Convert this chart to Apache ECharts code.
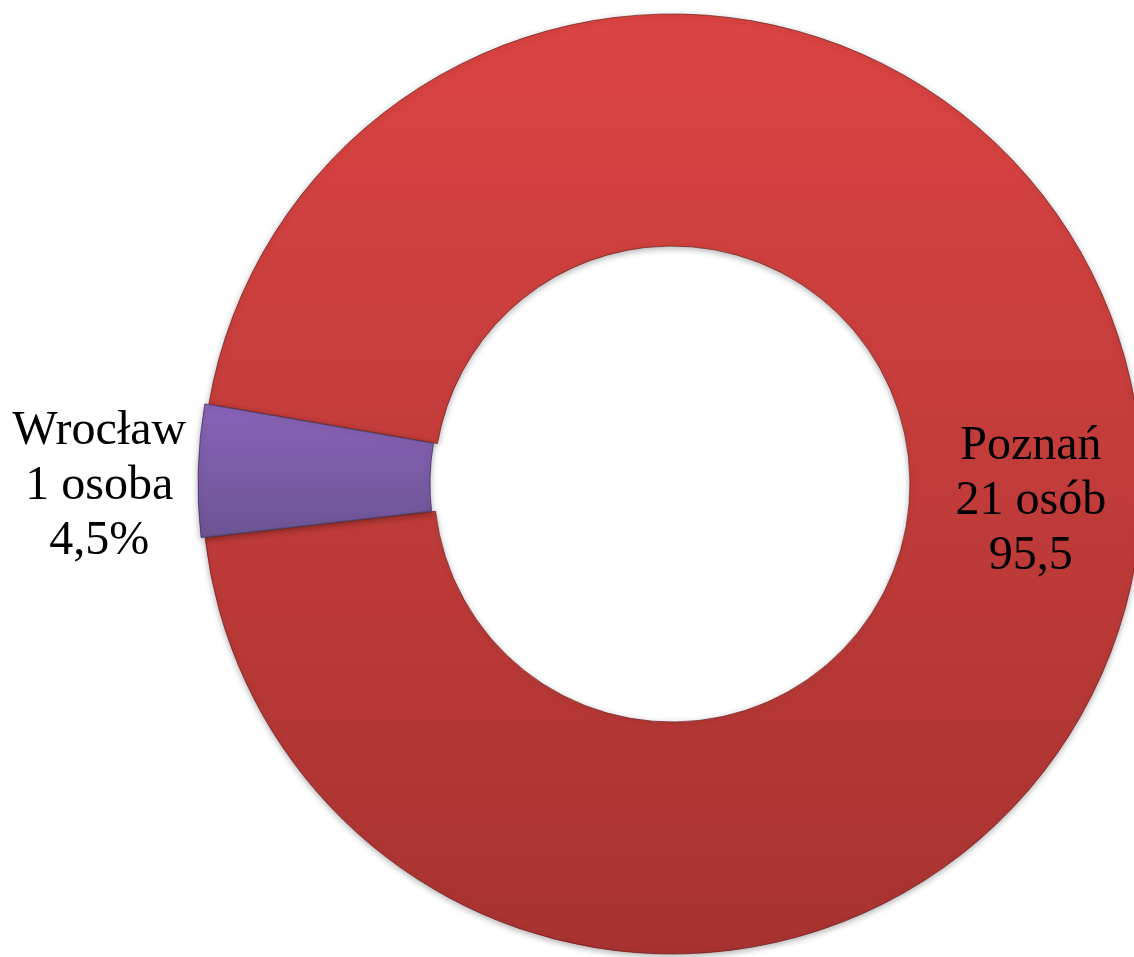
<!DOCTYPE html>
<html>
<head>
<meta charset="utf-8">
<style>
  html, body { margin: 0; padding: 0; background: #ffffff; }
  #chart { width: 1134px; height: 957px; }
</style>
<script src="https://cdn.jsdelivr.net/npm/echarts@6/dist/echarts.min.js"></script>
</head>
<body>
<div id="chart"></div>
<script>
// Data
const cities = ['Poznań', 'Wrocław'];
const counts = [21, 1];
const countLabels = ['21 osób', '1 osoba'];
const percentLabels = ['95,5', '4,5%'];

const chart = echarts.init(document.getElementById('chart'), null, { renderer: 'canvas' });

function grad(top, bottom) {
  return new echarts.graphic.LinearGradient(0, 0, 0, 1, [
    { offset: 0, color: top },
    { offset: 1, color: bottom }
  ]);
}

const styles = [
  { color: grad('#db4442', '#a73331'), borderColor: 'rgba(110,25,25,0.7)' },
  { color: grad('#8a63b8', '#6c5494'), borderColor: 'rgba(60,40,90,0.7)' }
];
const labelShift = [[2, 7], [-2, 16]];

const seriesData = cities.map((c, i) => ({
  name: c,
  value: counts[i],
  selected: i === 1,
  itemStyle: {
    color: styles[i].color,
    borderColor: styles[i].borderColor,
    borderWidth: 1,
    shadowBlur: 6,
    shadowColor: 'rgba(0,0,0,0.30)',
    shadowOffsetY: 2
  },
  label: { position: i === 0 ? 'inside' : 'outside' }
}));

chart.setOption({
  backgroundColor: '#ffffff',
  animation: false,
  series: [{
    type: 'pie',
    center: [672, 484],
    radius: [238, 470],
    startAngle: 170.2,
    clockwise: true,
    selectedMode: 'single',
    selectedOffset: 4,
    avoidLabelOverlap: false,
    data: seriesData,
    labelLayout: function (p) {
      return { dx: labelShift[p.dataIndex][0], dy: labelShift[p.dataIndex][1] };
    },
    label: {
      show: true,
      color: '#000000',
      fontFamily: 'Liberation Serif',
      fontSize: 48,
      lineHeight: 55,
      distanceToLabelLine: 10,
      formatter: function (p) {
        const i = p.dataIndex;
        return '{a|' + cities[i] + '}\n{a|' + countLabels[i] + '}\n{a|' + percentLabels[i] + '}';
      },
      rich: {
        a: {
          align: 'center',
          fontFamily: 'Liberation Serif',
          fontSize: 48,
          lineHeight: 55,
          color: '#000000'
        }
      }
    },
    labelLine: { show: false, length: 0, length2: 0 },
    emphasis: { disabled: true }
  }]
});
</script>
</body>
</html>
